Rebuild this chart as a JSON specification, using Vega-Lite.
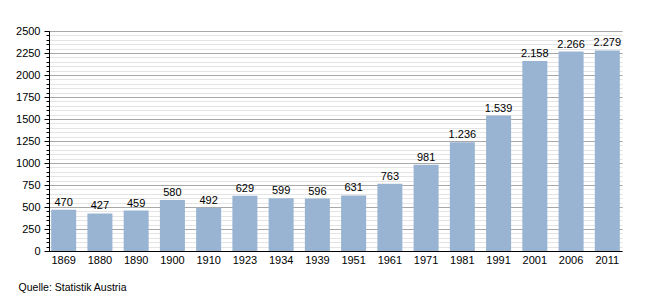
{
  "$schema": "https://vega.github.io/schema/vega-lite/v6.json",
  "width": 573,
  "height": 220,
  "autosize": {"type": "none"},
  "padding": {"left": 49, "top": 31, "right": 28, "bottom": 49},
  "background": "white",
  "config": {
    "view": {"stroke": null},
    "font": "Liberation Sans",
    "locale": {"number": {"decimal": ",", "thousands": ".", "grouping": [3], "currency": ["", " €"]}}
  },
  "title": {
    "text": "Quelle: Statistik Austria",
    "orient": "bottom",
    "anchor": "start",
    "frame": "bounds",
    "fontSize": 10.5,
    "fontWeight": "normal",
    "color": "#000",
    "font": "Liberation Sans",
    "offset": 18,
    "dx": 3
  },
  "data": {
    "values": [
      {"year": "1869", "pop": 470},
      {"year": "1880", "pop": 427},
      {"year": "1890", "pop": 459},
      {"year": "1900", "pop": 580},
      {"year": "1910", "pop": 492},
      {"year": "1923", "pop": 629},
      {"year": "1934", "pop": 599},
      {"year": "1939", "pop": 596},
      {"year": "1951", "pop": 631},
      {"year": "1961", "pop": 763},
      {"year": "1971", "pop": 981},
      {"year": "1981", "pop": 1236},
      {"year": "1991", "pop": 1539},
      {"year": "2001", "pop": 2158},
      {"year": "2006", "pop": 2266},
      {"year": "2011", "pop": 2279}
    ]
  },
  "encoding": {
    "x": {
      "field": "year",
      "type": "ordinal",
      "sort": null,
      "scale": {"paddingInner": 0.31, "paddingOuter": 0.06},
      "axis": {
        "title": null,
        "labelAngle": 0,
        "labelFontSize": 11,
        "labelColor": "#000",
        "labelPadding": 3,
        "ticks": false,
        "domainColor": "#000",
        "domainWidth": 1,
        "grid": false
      }
    }
  },
  "layer": [
    {
      "mark": {"type": "bar", "color": "#98b4d2"},
      "encoding": {
        "y": {
          "field": "pop",
          "type": "quantitative",
          "scale": {"domain": [0, 2500], "nice": false},
          "axis": {
            "title": null,
            "orient": "left",
            "values": [0,50,100,150,200,250,300,350,400,450,500,550,600,650,700,750,800,850,900,950,1000,1050,1100,1150,1200,1250,1300,1350,1400,1450,1500,1550,1600,1650,1700,1750,1800,1850,1900,1950,2000,2050,2100,2150,2200,2250,2300,2350,2400,2450,2500],
            "labels": false,
            "domain": false,
            "tickSize": 3,
            "tickColor": "#000",
            "grid": true,
            "gridColor": "#e4e4e4",
            "gridWidth": 1
          }
        }
      }
    },
    {
      "mark": {"type": "text", "baseline": "bottom", "dy": -2, "fontSize": 11, "color": "#000"},
      "encoding": {
        "y": {
          "field": "pop",
          "type": "quantitative",
          "scale": {"domain": [0, 2500], "nice": false},
          "axis": {
            "title": null,
            "orient": "left",
            "values": [0,250,500,750,1000,1250,1500,1750,2000,2250,2500],
            "format": "d",
            "labelFontSize": 11,
            "labelColor": "#000",
            "labelPadding": 4,
            "tickSize": 5,
            "tickColor": "#000",
            "domainColor": "#000",
            "grid": true,
            "gridColor": "#a8a8a8",
            "gridWidth": 1
          }
        },
        "text": {"field": "pop", "type": "quantitative", "format": ",d"}
      }
    }
  ],
  "resolve": {"axis": {"y": "independent"}}
}
